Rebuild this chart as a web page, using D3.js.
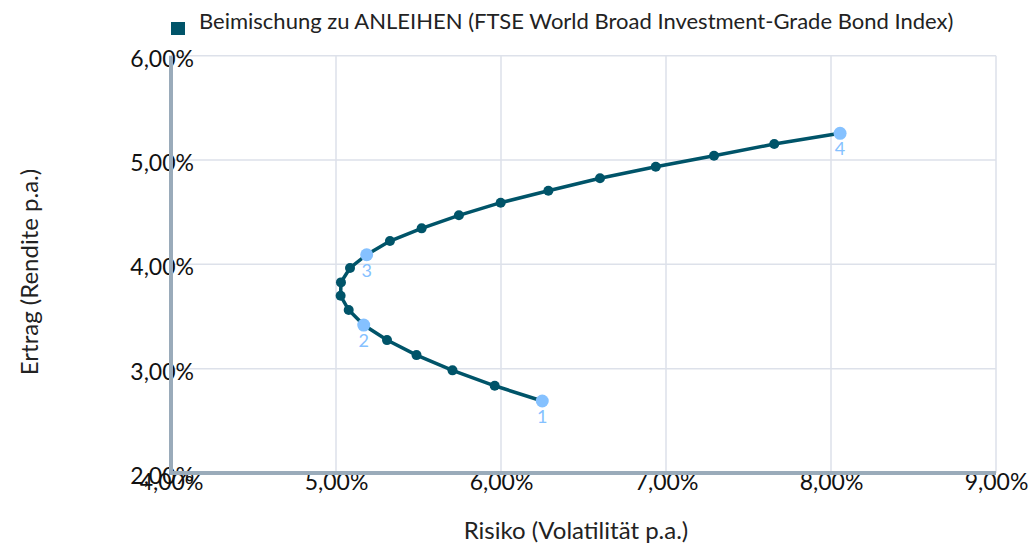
<!DOCTYPE html>
<html>
<head>
<meta charset="utf-8">
<script src="https://cdn.jsdelivr.net/npm/d3@7"></script>
<style>
  body { margin: 0; background: #fff; }
  text { font-family: Lato, "Open Sans", sans-serif; }
</style>
</head>
<body>
<div class="chart"></div>
<script>
// Risiko (x) / Ertrag (y), in %, 0..100% Anleihen in 5er-Schritten
const risk = [6.25, 5.962, 5.706, 5.488, 5.309, 5.168, 5.077, 5.028, 5.030, 5.085,
  5.186, 5.327, 5.519, 5.745, 5.998, 6.287, 6.600, 6.938, 7.291, 7.656, 8.055];
const ret = [2.69, 2.836, 2.984, 3.130, 3.274, 3.418, 3.562, 3.699, 3.827, 3.965,
  4.092, 4.223, 4.345, 4.470, 4.591, 4.706, 4.825, 4.936, 5.041, 5.153, 5.256];
const marked = [0, 5, 10, 20];
const markLabels = ["1", "2", "3", "4"];
const xTicks = [4, 5, 6, 7, 8, 9];
const yTicks = [2, 3, 4, 5, 6];
const legendLabel = "Beimischung zu ANLEIHEN (FTSE World Broad Investment-Grade Bond Index)";

const W = 1033, H = 545;
const m = { top: 55.7, right: 37, bottom: 72, left: 171 };

const fmt = v => v.toFixed(2).replace(".", ",") + "%";

const svg = d3.select(".chart")
  .append("svg")
  .attr("width", W)
  .attr("height", H);

const x = d3.scaleLinear().domain([4, 9]).range([m.left, W - m.right]);
const y = d3.scaleLinear().domain([2, 6]).range([H - m.bottom, m.top]);

// grid
svg.append("g")
  .selectAll("line")
  .data(xTicks)
  .enter()
  .append("line")
  .attr("x1", d => x(d)).attr("x2", d => x(d))
  .attr("y1", y(2)).attr("y2", y(6))
  .style("stroke", "#dde1ea")
  .style("stroke-width", 1.5);

svg.append("g")
  .selectAll("line")
  .data(yTicks)
  .enter()
  .append("line")
  .attr("x1", x(4)).attr("x2", x(9))
  .attr("y1", d => y(d)).attr("y2", d => y(d))
  .style("stroke", "#dde1ea")
  .style("stroke-width", 1.5);

// axes
const xAxis = svg.append("g")
  .attr("transform", `translate(0,${y(2)})`)
  .call(d3.axisBottom(x).tickValues(xTicks).tickFormat(fmt).tickSize(0).tickPadding(7));
const yAxis = svg.append("g")
  .attr("transform", `translate(${x(4) + 23},0)`)
  .call(d3.axisLeft(y).tickValues(yTicks).tickFormat(fmt).tickSize(0).tickPadding(0));

[xAxis, yAxis].forEach(a => {
  a.select(".domain").remove();
  a.selectAll("text")
    .style("font-family", "Lato, sans-serif")
    .style("font-size", "23px")
    .style("fill", "#111");
});
yAxis.selectAll("text").attr("dy", "0.45em");
xAxis.selectAll("text").attr("dy", "0.42em");

svg.append("line")
  .attr("x1", x(4)).attr("x2", x(4))
  .attr("y1", y(6)).attr("y2", y(2) + 2)
  .style("stroke", "#9aabba")
  .style("stroke-width", 4);
svg.append("line")
  .attr("x1", x(4) - 2).attr("x2", x(9))
  .attr("y1", y(2)).attr("y2", y(2))
  .style("stroke", "#9aabba")
  .style("stroke-width", 4);

// line + points
const pts = risk.map((r, i) => ({ r: r, e: ret[i], i: i }));

svg.append("path")
  .datum(pts)
  .attr("d", d3.line().x(d => x(d.r)).y(d => y(d.e)))
  .style("fill", "none")
  .style("stroke", "#005469")
  .style("stroke-width", 3.5);

svg.append("g")
  .selectAll("circle")
  .data(pts.filter(d => !marked.includes(d.i)))
  .enter()
  .append("circle")
  .attr("cx", d => x(d.r))
  .attr("cy", d => y(d.e))
  .attr("r", 5)
  .style("fill", "#005469");

const hi = svg.append("g")
  .selectAll("g")
  .data(marked.map((i, k) => ({ p: pts[i], label: markLabels[k] })))
  .enter()
  .append("g");

hi.append("circle")
  .attr("cx", d => x(d.p.r))
  .attr("cy", d => y(d.p.e))
  .attr("r", 6.5)
  .style("fill", "#85c1ff");

hi.append("text")
  .attr("x", d => x(d.p.r))
  .attr("y", d => y(d.p.e) + 22)
  .attr("text-anchor", "middle")
  .style("font-size", "18px")
  .style("fill", "#85c1ff")
  .text(d => d.label);

// legend
svg.append("rect")
  .attr("x", 171).attr("y", 22)
  .attr("width", 14).attr("height", 13)
  .style("fill", "#005469");
svg.append("text")
  .attr("x", 199).attr("y", 29)
  .style("font-size", "22px")
  .style("fill", "#222")
  .text(legendLabel);

// axis titles
svg.append("text")
  .attr("x", 576).attr("y", 539)
  .attr("text-anchor", "middle")
  .style("font-size", "24px")
  .style("fill", "#222")
  .text("Risiko (Volatilität p.a.)");

svg.append("text")
  .attr("transform", "translate(38,272) rotate(-90)")
  .attr("text-anchor", "middle")
  .style("font-size", "24px")
  .style("fill", "#222")
  .text("Ertrag (Rendite p.a.)");
</script>
</body>
</html>
